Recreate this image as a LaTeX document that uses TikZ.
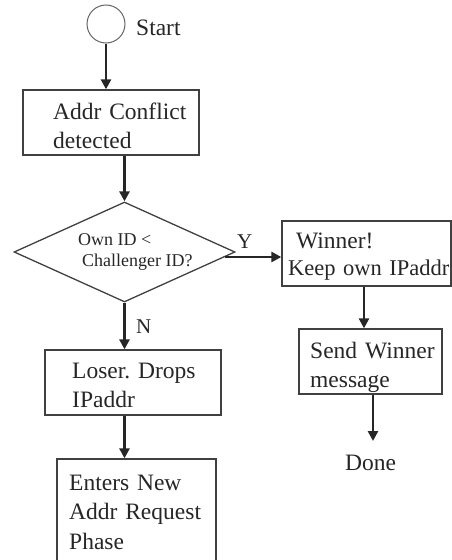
\documentclass[tikz,border=0pt]{standalone}
\usepackage{fontspec}
\setmainfont{Liberation Serif}
\usetikzlibrary{arrows.meta,shapes.geometric}
\frenchspacing
\begin{document}
\begin{tikzpicture}[x=1pt,y=-1pt,
  box/.style={draw=black!75,line width=1.3pt,rectangle,inner sep=0pt},
  lbl/.style={anchor=base west,inner sep=0pt,text width=#1,align=left,font=\fontsize{23.5}{29.5}\selectfont,text=black!85},
  lbl/.default=250pt,
  small/.style={anchor=base west,inner sep=0pt,font=\fontsize{18}{21}\selectfont,text=black!85},
  flow/.style={line width=2.8pt,draw=black!85,-{Triangle[length=10pt,width=10pt]}}]
\useasboundingbox (0,0) rectangle (452,560);
% start
\node[circle,draw=black!60,line width=1pt,minimum size=38pt,inner sep=0pt] (c) at (106,24) {};
\node[lbl=60pt] (ct) at (136,35) {Start};
% boxes
\node[box,minimum width=176pt,minimum height=65pt] (b1) at (111,122.5) {};
\node[lbl] (b1t) at (53,119) {Addr Conflict\\detected};
\node[diamond,draw=black!75,line width=1.3pt,minimum width=221pt,minimum height=100pt,inner sep=0pt] (d) at (124.5,252) {};
\node[small] (dt1) at (78,245) {Own ID <};
\node[small] (dt2) at (82,266) {Challenger ID?};
\node[box,minimum width=169pt,minimum height=65pt] (w) at (366.5,253.5) {};
\node[lbl] (wt) at (296,248) {Winner!};
\node[lbl,font=\fontsize{22.5}{27}\selectfont] (wt2) at (288,275) {Keep own IPaddr};
\node[box,minimum width=143pt,minimum height=65pt] (s) at (370.5,361.5) {};
\node[lbl] (st) at (310,358) {Send Winner\\message};
\node[box,minimum width=176pt,minimum height=65pt] (l) at (133,382.5) {};
\node[lbl] (lt) at (72,378) {Loser. Drops\\IPaddr};
\node[box,minimum width=159pt,minimum height=111pt] (e) at (136.5,514.5) {};
\node[lbl] (et) at (69,490) {Enters New\\Addr Request\\Phase};
\coordinate (dn) at (373,441);
\node[lbl=70pt] (done) at (345,470) {Done};
% labels
\node[anchor=base west,inner sep=0pt,font=\fontsize{21}{24}\selectfont,text=black!85] (y) at (237,248) {Y};
\node[anchor=base west,inner sep=0pt,font=\fontsize{21}{24}\selectfont,text=black!85] (n) at (136,333) {N};
% connectors
\draw[flow] (c.south) -- (c.south |- b1.north);
\draw[flow] (b1.south -| d.north) -- (d.north);
\draw[flow] ([shift={(-11,5)}]d.east) coordinate (ys) -- (ys -| w.west);
\draw[flow] (d.south) -- (d.south |- l.north);
\coordinate (ls) at (l.south -| d.south);
\draw[flow] (ls) -- (ls |- e.north);
\coordinate (ws) at ([xshift=-2.5pt]w.south);
\draw[flow] (ws) -- (ws |- s.north);
\draw[flow] (dn |- s.south) -- (dn);
\end{tikzpicture}
\end{document}
